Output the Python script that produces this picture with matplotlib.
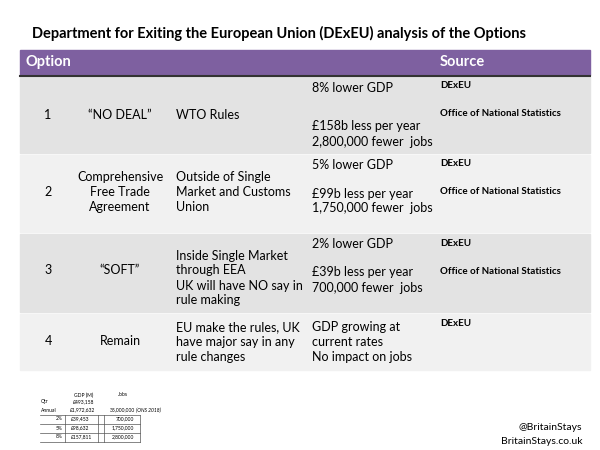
import matplotlib
matplotlib.use("Agg")
import matplotlib.pyplot as plt
from matplotlib.patches import Rectangle

plt.rcParams['font.family'] = ['Lato', 'DejaVu Sans']

title = "Department for Exiting the European Union (DExEU) analysis of the Options"
option_nums = ["1", "2", "3", "4"]
option_names = ["\u201cNO DEAL\u201d", "Comprehensive\nFree Trade\nAgreement", "\u201cSOFT\u201d", "Remain"]
descriptions = ["WTO Rules", "Outside of Single\nMarket and Customs\nUnion",
                "Inside Single Market\nthrough EEA\nUK will have NO say in\nrule making",
                "EU make the rules, UK\nhave major say in any\nrule changes"]
gdp_lines = ["8% lower GDP", "5% lower GDP", "2% lower GDP", "GDP growing at\ncurrent rates\nNo impact on jobs"]
money_lines = ["\u00a3158b less per year\n2,800,000 fewer  jobs", "\u00a399b less per year\n1,750,000 fewer  jobs",
               "\u00a339b less per year\n700,000 fewer  jobs", ""]
sources_a = ["DExEU", "DExEU", "DExEU", "DExEU"]
sources_b = ["Office of National Statistics", "Office of National Statistics", "Office of National Statistics", ""]

pct = ["2%", "5%", "8%"]
gdp_m = ["\u00a339,453", "\u00a398,632", "\u00a3157,811"]
jobs = ["700,000", "1,750,000", "2,800,000"]

fig = plt.figure(figsize=(6, 4.5), dpi=100)
ax = fig.add_axes([0, 0, 1, 1])
ax.set_xlim(0, 600); ax.set_ylim(450, 0); ax.axis('off')

ax.text(32, 33, title, fontsize=10.5, fontweight='bold', va='center', ha='left')
ax.add_patch(Rectangle((20, 50), 570, 25, color='#7E60A0'))
ax.plot([20, 590], [76, 76], color='#333333', lw=1.5)
ax.text(25, 62, "Option", color='white', fontsize=10.5, fontweight='bold', va='center')
ax.text(440, 62, "Source", color='white', fontsize=10.5, fontweight='bold', va='center')

rows = [(77, 154), (155, 233), (234, 313), (314, 371)]
cols = ['#E3E3E3', '#F1F1F1', '#E3E3E3', '#F1F1F1']
fs = 9
for i, (y0, y1) in enumerate(rows):
    ax.add_patch(Rectangle((20, y0), 570, y1 - y0 - 1, color=cols[i]))
    yc_mid = [115, 192, 270, 341][i]
    ax.text(48, yc_mid, option_nums[i], fontsize=fs, ha='center', va='center')
    ax.text(120, yc_mid, option_names[i], fontsize=fs, ha='center', va='center', linespacing=1.3)
    ax.text(176, [115, 192, 278, 342][i], descriptions[i], fontsize=fs, ha='left', va='center', linespacing=1.3)
    ax.text(312, [88, 165, 244, 342][i], gdp_lines[i], fontsize=fs, ha='left', va='center', linespacing=1.3)
    if money_lines[i]:
        ax.text(312, [134, 201, 280][i], money_lines[i], fontsize=fs, ha='left', va='center', linespacing=1.3)
    ax.text(440, [85, 163, 243, 323][i], sources_a[i], fontsize=7, ha='left', va='center', fontweight='bold')
    if sources_b[i]:
        ax.text(440, [113, 192, 271][i], sources_b[i], fontsize=7, ha='left', va='center', fontweight='bold')

# small table
sfs = 3.6
ax.text(74, 395, "GDP (M)", fontsize=sfs, va='center')
ax.text(118, 395, "Jobs", fontsize=sfs, va='center')
ax.text(41, 402, "Qtr", fontsize=sfs, va='center')
ax.text(73, 402, "\u00a3493,158", fontsize=sfs, va='center')
ax.text(41, 410, "Annual", fontsize=sfs, va='center')
ax.text(70, 410, "\u00a31,972,632", fontsize=sfs, va='center')
ax.text(110, 410, "35,000,000", fontsize=sfs, va='center')
ax.text(136, 410, "(ONS 2018)", fontsize=sfs, va='center', style='italic')
for k in range(3):
    y = 419 + 9 * k
    ax.text(63, y, pct[k], fontsize=sfs, va='center', ha='right')
    ax.text(71, y, gdp_m[k], fontsize=sfs, va='center')
    ax.text(134, y, jobs[k], fontsize=sfs, va='center', ha='right')
for y in [414.5, 423.5, 432.5, 441.5]:
    ax.plot([40, 140], [y, y], color='#555555', lw=0.5)
for x in [65, 98, 104, 140]:
    ax.plot([x, x], [414.5, 441.5], color='#555555', lw=0.5)

ax.text(582, 427, "@BritainStays", fontsize=7.5, ha='right', va='center')
ax.text(582, 442, "BritainStays.co.uk", fontsize=7.5, ha='right', va='center')

fig.savefig("out.png", dpi=100)
